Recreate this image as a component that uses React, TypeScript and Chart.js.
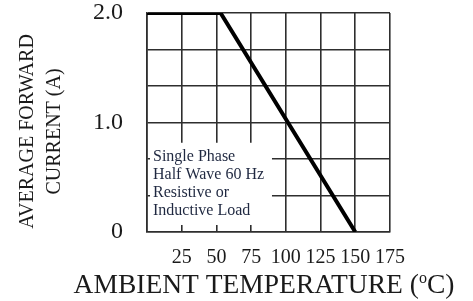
import React, { useEffect, useRef } from "react";
import { Chart, registerables } from "chart.js";

Chart.register(...registerables);

const temperatures = [0, 53, 150];
const currents = [2.0, 2.0, 0];
const xTickValues = [0, 25, 50, 75, 100, 125, 150, 175];
const yTickValues = [0, 1 / 3, 2 / 3, 1, 4 / 3, 5 / 3, 2];
const yTickLabels: Record<number, string> = { 0: "0", 3: "1.0", 6: "2.0" };
const noteLines = ["Single Phase", "Half Wave 60 Hz", "Resistive or", "Inductive Load"];
const yTitleLines = ["AVERAGE FORWARD", "CURRENT (A)"];
const xTitleParts = ["AMBIENT TEMPERATURE (", "o", "C)"];

const SERIF = "'Liberation Serif', 'Times New Roman', serif";

const notePlugin = {
  id: "noteBox",
  beforeDatasetsDraw(chart: any) {
    const { ctx } = chart;
    const xs = chart.scales.x;
    const ys = chart.scales.y;
    const left = xs.getPixelForValue(0) + 3;
    const right = xs.getPixelForValue(90);
    const top = ys.getPixelForValue(0.815);
    const bottom = ys.getPixelForValue(0.064);
    ctx.save();
    ctx.fillStyle = "#ffffff";
    ctx.fillRect(left, top, right - left, bottom - top);
    ctx.fillStyle = "#1f2840";
    ctx.font = `16px ${SERIF}`;
    ctx.textBaseline = "middle";
    ctx.textAlign = "left";
    const startY = top + 14;
    noteLines.forEach((t, i) => {
      ctx.fillText(t, left + 3, startY + i * 18);
    });
    ctx.restore();
  },
  afterDraw(chart: any) {
    const { ctx } = chart;
    const area = chart.chartArea;
    ctx.save();
    ctx.fillStyle = "#1a1a1a";
    // Y title
    ctx.font = `20px ${SERIF}`;
    ctx.textAlign = "center";
    ctx.textBaseline = "alphabetic";
    const cy = (area.top + area.bottom) / 2 + 9;
    const baselines = [33, 60];
    yTitleLines.forEach((t, i) => {
      ctx.save();
      ctx.translate(baselines[i], cy);
      ctx.rotate(-Math.PI / 2);
      ctx.fillText(t, 0, 0);
      ctx.restore();
    });
    // X title
    const big = `27.5px ${SERIF}`;
    const small = `16px ${SERIF}`;
    ctx.textAlign = "left";
    ctx.font = big;
    const w0 = ctx.measureText(xTitleParts[0]).width;
    const w2 = ctx.measureText(xTitleParts[2]).width;
    ctx.font = small;
    const w1 = ctx.measureText(xTitleParts[1]).width;
    const total = w0 + w1 + w2;
    let x = 264 - total / 2;
    const base = 293;
    ctx.font = big;
    ctx.fillText(xTitleParts[0], x, base);
    x += w0;
    ctx.font = small;
    ctx.fillText(xTitleParts[1], x, base - 10);
    x += w1;
    ctx.font = big;
    ctx.fillText(xTitleParts[2], x, base);
    ctx.restore();
  },
};

export default function App() {
  const ref = useRef<HTMLCanvasElement | null>(null);
  useEffect(() => {
    if (!ref.current) return;
    const gridColor = "#2e2e2e";
    const chart = new Chart(ref.current, {
      type: "line",
      data: {
        datasets: [
          {
            data: temperatures.map((t, i) => ({ x: t, y: currents[i] })),
            borderColor: "#000000",
            borderWidth: 4,
            pointRadius: 0,
            tension: 0,
            fill: false,
          },
        ],
      },
      options: {
        animation: false,
        responsive: false,
        maintainAspectRatio: false,
        events: [],
        layout: { padding: { top: 13, right: 83, left: 0, bottom: 0 } },
        plugins: { legend: { display: false }, tooltip: { enabled: false } },
        scales: {
          x: {
            type: "linear",
            min: 0,
            max: 175,
            afterBuildTicks: (s: any) => {
              s.ticks = xTickValues.map((v) => ({ value: v }));
            },
            afterFit: (s: any) => {
              s.height = 69;
              s.paddingLeft = 0;
              s.paddingRight = 0;
            },
            ticks: {
              callback: (v: any) => (v === 0 ? "" : String(v)),
              font: { family: SERIF, size: 20 },
              color: "#1a1a1a",
              padding: 14,
              maxRotation: 0,
              autoSkip: false,
            },
            grid: { color: gridColor, lineWidth: 1.6, drawTicks: false },
            border: { color: gridColor, width: 1.6 },
          },
          y: {
            type: "linear",
            min: 0,
            max: 2,
            afterBuildTicks: (s: any) => {
              s.ticks = yTickValues.map((v) => ({ value: v }));
            },
            afterFit: (s: any) => {
              s.width = 147;
              s.paddingTop = 0;
              s.paddingBottom = 0;
            },
            ticks: {
              callback: (_v: any, i: number) => yTickLabels[i] ?? "",
              font: { family: SERIF, size: 24 },
              color: "#1a1a1a",
              padding: 24,
              autoSkip: false,
            },
            grid: { color: gridColor, lineWidth: 1.6, drawTicks: false },
            border: { color: gridColor, width: 1.6 },
          },
        },
      },
      plugins: [notePlugin],
    });
    return () => chart.destroy();
  }, []);
  return (
    <div style={{ position: "fixed", left: 0, top: 0, width: 473, height: 301, background: "#fff" }}>
      <canvas ref={ref} width={473} height={301} style={{ width: 473, height: 301 }} />
    </div>
  );
}
